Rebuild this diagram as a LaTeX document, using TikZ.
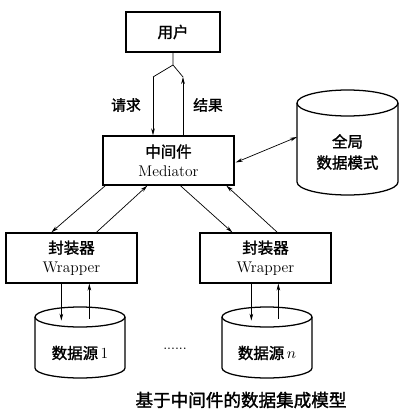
\documentclass[tikz,border=0pt]{standalone}
\usepackage{fontspec}
\usepackage{tikz}
\usetikzlibrary{calc,arrows.meta,positioning}
\newfontfamily\cjk[FakeBold=1.6]{Noto Sans CJK SC}

\begin{document}
\begin{tikzpicture}[x=0.025cm, y=0.025cm,
    box/.style={draw, line width=0.9pt, minimum width=3.275cm, minimum height=1.25cm,
      align=center, inner sep=0pt, font=\fontsize{11}{13.5}\selectfont},
    cyl/.style={line width=0.9pt},
    lbl/.style={font=\cjk\fontsize{10.5}{12}\selectfont},
    arr/.style={-{Stealth[length=5pt,width=2.6pt]}, line width=0.5pt},
    darr/.style={{Stealth[length=5pt,width=2.6pt]}-{Stealth[length=5pt,width=2.6pt]}, line width=0.5pt}]

\useasboundingbox (0,0) rectangle (411,-414);

% Boxes
\node[box, minimum width=2.35cm, minimum height=1cm] (user) at (173,-32) {\cjk 用户};
\node[box, minimum height=1.225cm] (med) at (168.5,-160.5) {{\cjk 中间件}\\Mediator};
\node[box] (wrap1) at (71.5,-258) {{\cjk 封装器}\\Wrapper};
\node[box] (wrap2) at (265.5,-258) {{\cjk 封装器}\\Wrapper};

% Global schema (cylinder)
\draw[cyl] (297,-103) -- (297,-182) arc (180:360:50.5 and 13) -- (398,-103);
\draw[cyl] (347.5,-103) ellipse (50.5 and 13);
\node[align=center, font=\cjk\fontsize{11}{15}\selectfont] (glob) at (347.5,-152) {全局\\数据模式};
\coordinate (globw) at (297,-137);

% Data sources
\draw[cyl] (35,-317) -- (35,-368) arc (180:360:45 and 10) -- (125,-317);
\draw[cyl] (80,-317) ellipse (45 and 10);
\node[font=\fontsize{11}{13}\selectfont] (ds1) at (80,-353) {{\cjk 数据源}\,1};

\draw[cyl] (222,-317) -- (222,-368) arc (180:360:45 and 10) -- (312,-317);
\draw[cyl] (267,-317) ellipse (45 and 10);
\node[font=\fontsize{11}{13}\selectfont] (dsn) at (267,-353) {{\cjk 数据源}\,$n$};

\node (dots) at (175,-349) {......};

% User <-> mediator
\coordinate (fork) at (173,-65);
\coordinate (reqtop) at (153,-77);
\coordinate (restop) at (183,-77);
\draw[line width=0.5pt] (user.south) -- (fork) -- (reqtop);
\draw[line width=0.5pt] (fork) -- (restop);
\draw[arr] (reqtop) -- (reqtop |- med.north);
\draw[arr] (restop |- med.north) -- (restop);
\node[lbl] (req) at (126,-105) {请求};
\node[lbl] (res) at (208,-105) {结果};

% Mediator <-> global schema
\draw[darr] ($(med.east)+(1,-2)$) -- (globw);

% Mediator <-> wrappers
\draw[arr] ($(med.south west)+(3,0)$) -- ($(wrap1.north west)+(46,0)$);
\draw[arr] ($(wrap1.north west)+(91,0)$) -- ($(med.south west)+(45,0)$);
\draw[arr] ($(med.south west)+(78,0)$) -- ($(wrap2.north west)+(33,0)$);
\draw[arr] ($(wrap2.north west)+(78,0)$) -- ($(med.south west)+(124,0)$);

% Wrappers <-> data sources
\draw[arr] (wrap1.south west) ++(56,0) -- ++(0,-37);
\draw[arr] (wrap1.south west) ++(84,-35) -- ++(0,35);
\draw[arr] (wrap2.south west) ++(52,0) -- ++(0,-37);
\draw[arr] (wrap2.south west) ++(79,-35) -- ++(0,35);

% Caption
\node[font=\cjk\fontsize{12.5}{15}\selectfont] (title) at (241,-400) {基于中间件的数据集成模型};

\end{tikzpicture}
\end{document}
